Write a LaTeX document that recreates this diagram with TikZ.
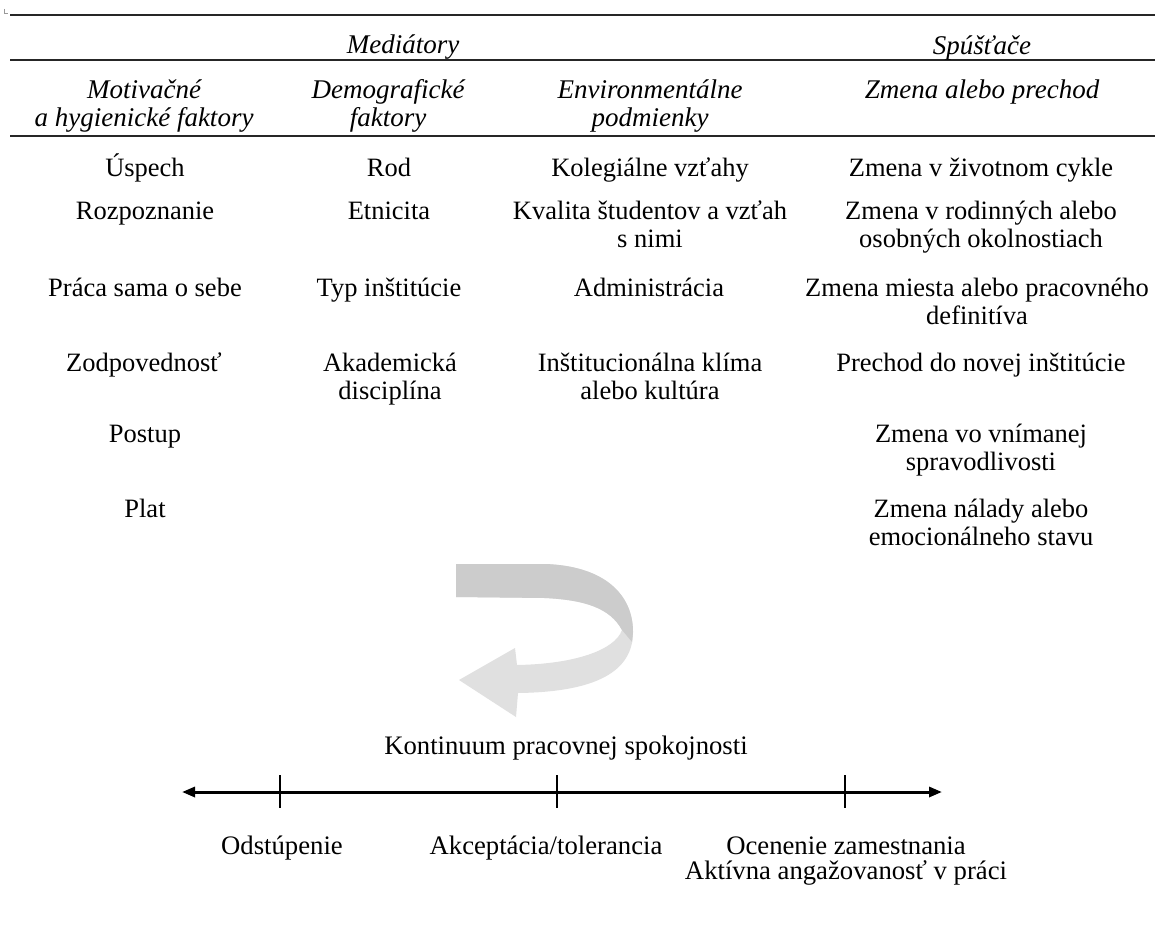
\documentclass[tikz,border=0pt]{standalone}
\usepackage{fontspec}
\setmainfont{Liberation Serif}
\usetikzlibrary{arrows.meta}
\newcommand{\twoline}[2]{\begin{tabular}[t]{@{}c@{}}#1\\#2\end{tabular}}
\begin{document}
\begin{tikzpicture}[x=1pt,y=-1pt,
  body/.style={font=\fontsize{26.5}{28}\selectfont, inner sep=0pt, anchor=base},
  head/.style={font=\fontsize{27}{28}\selectfont\itshape, inner sep=0pt, anchor=base},
  axislab/.style={font=\fontsize{26.7}{23.5}\selectfont, inner sep=0pt, anchor=base},
  rulebar/.style={line width=2.2pt, black!85},
  axisline/.style={line width=3pt, black, {Triangle[length=13pt,width=10pt]}-{Triangle[length=13pt,width=10pt]}},
  tickline/.style={line width=2.4pt, black},
  arrback/.style={fill=black!20, draw=none},
  arrfront/.style={fill=black!12, draw=none},
]
\useasboundingbox[fill=white] (0,0) rectangle (1155,947);

% anchor mark
\draw[black!40, line width=0.9pt] (4,9) -- (4,13) -- (8,13);

% rules
\coordinate (r1a) at (10,15);  \coordinate (r1b) at (1155,15);
\coordinate (r2a) at (10,60);  \coordinate (r2b) at (1155,60);
\coordinate (r3a) at (10,136); \coordinate (r3b) at (1155,136);
\draw[rulebar] (r1a) -- (r1b);
\draw[rulebar] (r2a) -- (r2b);
\draw[rulebar] (r3a) -- (r3b);

% group headers
\node[head] (med) at (403,54) {Mediátory};
\node[head] (spu) at (982,55) {Spúšťače};

% column headers
\node[head] (h1) at (144,99) {\twoline{Motivačné}{a hygienické faktory}};
\node[head] (h2) at (388,99) {\twoline{Demografické}{faktory}};
\node[head] (h3) at (650,99) {\twoline{Environmentálne}{podmienky}};
\node[head] (h4) at (982,99) {Zmena alebo prechod};

% column 1
\node[body] (a1) at (145,176) {Úspech};
\node[body] (a2) at (145,219) {Rozpoznanie};
\node[body] (a3) at (145,296) {Práca sama o sebe};
\node[body] (a4) at (144,371) {Zodpovednosť};
\node[body] (a5) at (145,442) {Postup};
\node[body] (a6) at (145,517) {Plat};

% column 2
\node[body] (b1) at (389,176) {Rod};
\node[body] (b2) at (389,219) {Etnicita};
\node[body] (b3) at (389,296) {Typ inštitúcie};
\node[body] (b4) at (390,371) {\twoline{Akademická}{disciplína}};

% column 3
\node[body] (c1) at (650,176) {Kolegiálne vzťahy};
\node[body] (c2) at (650,219) {\twoline{Kvalita študentov a vzťah}{s nimi}};
\node[body] (c3) at (649,296) {Administrácia};
\node[body] (c4) at (650,371) {\twoline{Inštitucionálna klíma}{alebo kultúra}};

% column 4
\node[body] (d1) at (981,176) {Zmena v životnom cykle};
\node[body] (d2) at (981,219) {\twoline{Zmena v rodinných alebo}{osobných okolnostiach}};
\node[body] (d3) at (977,296) {\twoline{Zmena miesta alebo pracovného}{definitíva}};
\node[body] (d4) at (981,371) {Prechod do novej inštitúcie};
\node[body] (d5) at (981,442) {\twoline{Zmena vo vnímanej}{spravodlivosti}};
\node[body] (d6) at (981,517) {\twoline{Zmena nálady alebo}{emocionálneho stavu}};

% curved grey arrow
\path[arrfront] (456,564) -- (545,564)
  .. controls (605,566) and (633,595) .. (633,632)
  .. controls (633,672) and (595,692) .. (518,693)
  -- (516,717) -- (459,680) -- (515,648) -- (517,665)
  .. controls (575,664) and (615,650) .. (622,630)
  .. controls (610,608) and (585,600) .. (545,598)
  -- (456,597) -- cycle;
\path[arrback] (456,564) -- (545,564)
  .. controls (605,566) and (633,595) .. (633,632)
  -- (632,642) -- (622,630)
  .. controls (610,608) and (585,600) .. (545,598)
  -- (456,597) -- cycle;

% continuum
\node[axislab] (kont) at (566,754) {Kontinuum pracovnej spokojnosti};
\coordinate (axL) at (182,792);
\coordinate (axR) at (942,792);
\draw[axisline] (axL) -- (axR);
\coordinate (t1a) at (280,775); \coordinate (t1b) at (280,808);
\coordinate (t2a) at (557,775); \coordinate (t2b) at (557,808);
\coordinate (t3a) at (845,775); \coordinate (t3b) at (845,808);
\draw[tickline] (t1a) -- (t1b);
\draw[tickline] (t2a) -- (t2b);
\draw[tickline] (t3a) -- (t3b);

\node[axislab] (l1) at (282,854) {Odstúpenie};
\node[axislab] (l2) at (546,854) {Akceptácia/tolerancia};
\node[axislab] (l3) at (846,854) {\twoline{Ocenenie zamestnania}{Aktívna angažovanosť v práci}};
\end{tikzpicture}
\end{document}
